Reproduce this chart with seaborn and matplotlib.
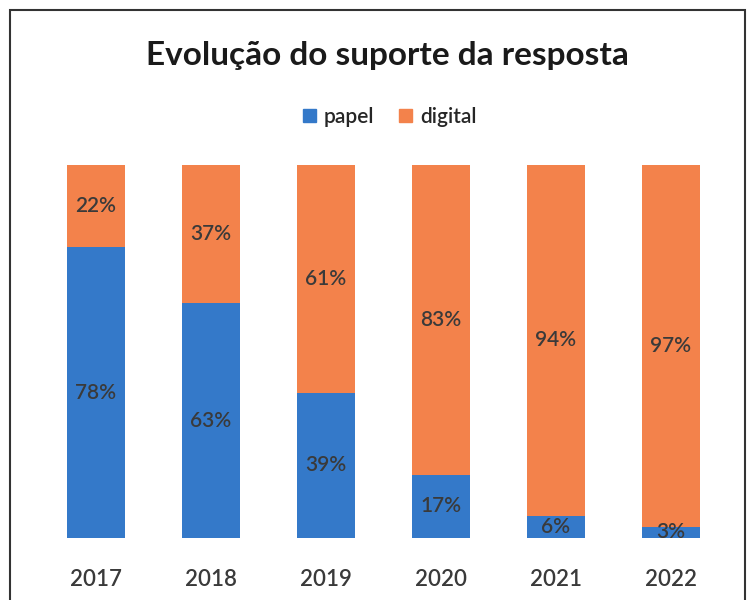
import pandas as pd
import seaborn as sns
from matplotlib import pyplot as plt
from matplotlib.patches import Rectangle, Patch

years = ["2017", "2018", "2019", "2020", "2021", "2022"]
papel = [78, 63, 39, 17, 6, 3]
digital = [22, 37, 61, 83, 94, 97]

blue = "#3479C9"
orange = "#F3824B"
text_color = "#3A3A3A"

sns.set_style("white")
plt.rcParams["font.family"] = ["Lato", "DejaVu Sans"]

df = pd.DataFrame({"ano": years, "papel": papel, "digital": digital})
df["total"] = df["papel"] + df["digital"]

fig = plt.figure(figsize=(7.48, 6), dpi=100)
ax = fig.add_axes([38.5 / 748, 1 - 538 / 600, 690 / 748, 373 / 600])

sns.barplot(data=df, x="ano", y="total", color=orange, saturation=1,
            width=0.51, linewidth=0, ax=ax)
sns.barplot(data=df, x="ano", y="papel", color=blue, saturation=1,
            width=0.51, linewidth=0, ax=ax)

for i, row in df.iterrows():
    ax.text(i, row["papel"] / 2, f"{row['papel']}%", ha="center", va="center",
            fontsize=15, fontweight="semibold", color=text_color)
    ax.text(i, row["papel"] + row["digital"] / 2, f"{row['digital']}%",
            ha="center", va="center", fontsize=15, fontweight="semibold",
            color=text_color)

ax.set_ylim(0, 100)
ax.set_xlim(-0.5, 5.5)
ax.set_xlabel("")
ax.set_ylabel("")
ax.set_yticks([])
ax.tick_params(axis="x", length=0, labelsize=16, labelcolor=text_color, pad=22)
for lbl in ax.get_xticklabels():
    lbl.set_fontweight("semibold")
sns.despine(ax=ax, left=True, bottom=True)

fig.text(387 / 748, 1 - 55 / 600, "Evolução do suporte da resposta",
         ha="center", va="center", fontsize=24, fontweight="bold",
         color="#1a1a1a")

handles = [Patch(color=blue, label="papel"), Patch(color=orange, label="digital")]
fig.legend(handles=handles, loc="center", bbox_to_anchor=(390 / 748, 1 - 117 / 600),
           ncol=2, frameon=False, prop={"size": 15, "weight": "semibold"},
           handlelength=0.6, handleheight=0.6, handletextpad=0.4,
           columnspacing=1.2)

fig.patches.append(Rectangle((10 / 748, -0.1), 735 / 748, 1.1 - 10 / 600,
                             transform=fig.transFigure, fill=False,
                             edgecolor="#333333", linewidth=1.5))

plt.savefig("out.png", dpi=100)
